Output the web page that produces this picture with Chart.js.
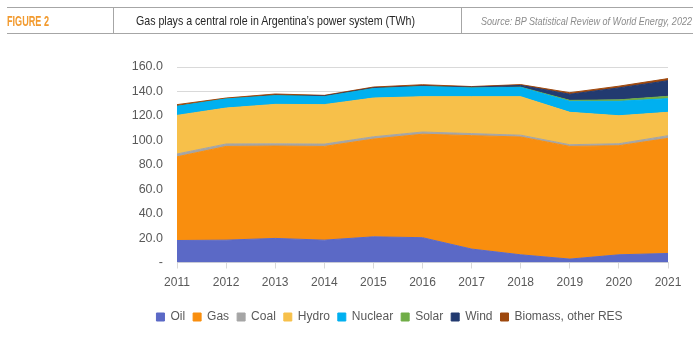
<!DOCTYPE html>
<html>
<head>
<meta charset="utf-8">
<title>Gas plays a central role in Argentina's power system (TWh)</title>
<script src="https://cdn.jsdelivr.net/npm/chart.js@4.4.1/dist/chart.umd.min.js"></script>
<style>
  html, body { margin: 0; padding: 0; background: #fff; }
  #wrap { position: relative; width: 700px; height: 344px; overflow: hidden; }
  #chart { position: absolute; left: 0; top: 0; }
  .rule { position: absolute; background: #a6a6a6; }
  .hd { position: absolute; white-space: nowrap; line-height: 16px; transform-origin: left center; }
</style>
</head>
<body>
<div id="wrap">
  <canvas id="chart" width="700" height="344"></canvas>
  <div class="rule" style="left:7px;top:7px;width:686px;height:1px"></div>
  <div class="rule" style="left:7px;top:33px;width:686px;height:1px"></div>
  <div class="rule" style="left:113px;top:7px;width:1px;height:27px"></div>
  <div class="rule" style="left:461px;top:7px;width:1px;height:27px"></div>
  <div class="hd" data-w="42" style="left:7px;top:13px;font-weight:bold;font-size:14px;font-family:'Liberation Sans Narrow','Liberation Sans',sans-serif;color:#F29A2E">FIGURE 2</div>
  <div class="hd" data-w="279" style="left:136px;top:13px;font-size:13.5px;font-family:'Liberation Sans Narrow','Liberation Sans',sans-serif;color:#262626">Gas plays a central role in Argentina’s power system (TWh)</div>
  <div class="hd" data-w="211" style="left:481px;top:13px;font-style:italic;font-size:11px;font-family:'Liberation Sans',sans-serif;color:#8c8c8c">Source: BP Statistical Review of World Energy, 2022</div>
</div>
<script>
// Header texts use a condensed look: squeeze each one to its column width.
document.querySelectorAll('.hd').forEach(el => {
  const target = parseFloat(el.dataset.w);
  const w = el.getBoundingClientRect().width;
  if (w > 0) el.style.transform = 'scaleX(' + (target / w) + ')';
});

// Electricity generation in Argentina by source, TWh
const years   = ['2011', '2012', '2013', '2014', '2015', '2016', '2017', '2018', '2019', '2020', '2021'];
const oil     = [18.0, 18.3, 19.7, 18.3, 21.0, 20.3, 11.0, 6.3, 2.8, 6.3, 7.4];
const gas     = [68.5, 76.7, 75.6, 76.7, 80.0, 84.7, 92.8, 96.4, 92.2, 89.3, 94.2];
const coal    = [2.3, 2.0, 1.8, 1.9, 1.9, 1.8, 1.7, 1.5, 1.4, 1.6, 2.2];
const hydro   = [31.6, 29.4, 32.3, 32.3, 31.7, 28.9, 30.2, 31.5, 26.5, 22.9, 19.1];
const nuclear = [7.4, 7.4, 7.1, 6.5, 7.7, 8.3, 7.1, 7.6, 9.0, 11.8, 11.2];
const solar   = [0.0, 0.0, 0.0, 0.0, 0.0, 0.0, 0.1, 0.2, 0.8, 1.2, 1.9];
const wind    = [0.0, 0.0, 0.4, 0.6, 0.6, 0.5, 0.6, 1.4, 5.0, 9.8, 12.8];
const biomass = [1.4, 0.8, 1.0, 0.5, 0.7, 1.0, 0.5, 0.7, 1.3, 1.4, 1.7];
const yTicks  = [0, 20, 40, 60, 80, 100, 120, 140, 160];

const series = [
  { label: 'Oil',                values: oil,     color: '#5B69C6' },
  { label: 'Gas',                values: gas,     color: '#F98E0E' },
  { label: 'Coal',               values: coal,    color: '#A5A5A5' },
  { label: 'Hydro',              values: hydro,   color: '#F7C04A' },
  { label: 'Nuclear',            values: nuclear, color: '#00B0F0' },
  { label: 'Solar',              values: solar,   color: '#70AD47' },
  { label: 'Wind',               values: wind,    color: '#223A70' },
  { label: 'Biomass, other RES', values: biomass, color: '#9E480E' }
];

const FONT = "'Liberation Sans', Arial, sans-serif";
const TEXT = '#595959';
const GRID = '#d9d9d9';

new Chart(document.getElementById('chart'), {
  type: 'line',
  data: {
    labels: years,
    datasets: series.map((s, i) => ({
      label: s.label,
      data: s.values,
      backgroundColor: s.color,
      borderColor: s.color,
      borderWidth: 1,
      pointRadius: 0,
      pointHoverRadius: 0,
      tension: 0,
      fill: i === 0 ? 'origin' : '-1'
    }))
  },
  options: {
    responsive: false,
    animation: false,
    events: [],
    layout: { padding: { left: 111, right: 32, top: 67, bottom: 11 } },
    plugins: {
      tooltip: { enabled: false },
      legend: {
        position: 'bottom',
        labels: {
          boxWidth: 8,
          boxHeight: 8,
          padding: 8,
          color: TEXT,
          font: { family: FONT, size: 12 }
        }
      }
    },
    scales: {
      x: {
        offset: false,
        grid: { display: true, drawOnChartArea: false, drawTicks: true, tickLength: 6, color: GRID },
        border: { display: true, color: GRID },
        ticks: { color: TEXT, font: { family: FONT, size: 12 }, padding: 7, maxRotation: 0, autoSkip: false },
        afterFit: s => { s.height = 40.5; }
      },
      y: {
        stacked: true,
        min: 0,
        max: 160,
        afterBuildTicks: s => { s.ticks = yTicks.map(v => ({ value: v })); },
        grid: { color: GRID, drawTicks: false },
        border: { display: false },
        ticks: {
          color: TEXT,
          font: { family: FONT, size: 12.5 },
          padding: 14,
          callback: v => (v === 0 ? '-' : Number(v).toFixed(1))
        },
        afterFit: s => { s.width = 66; }
      }
    }
  }
});
</script>
</body>
</html>
